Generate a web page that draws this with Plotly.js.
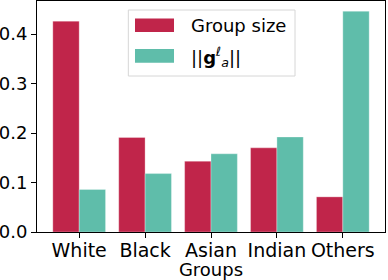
<!DOCTYPE html>
<html>
<head>
<meta charset="utf-8">
<script src="https://cdn.plot.ly/plotly-3.0.1.min.js"></script>
<style>html,body{margin:0;padding:0;background:#fff;}#chart{width:388px;height:280px;}</style>
</head>
<body>
<div id="chart"></div>
<script>
const categories = ["White", "Black", "Asian", "Indian", "Others"];
const groupSize = [0.426, 0.191, 0.143, 0.170, 0.071];
const gradNorm = [0.086, 0.118, 0.158, 0.192, 0.446];
const seriesNames = ["Group size", "||<b>g</b><sup><i>ℓ</i></sup><sub><i>a</i></sub>||"];
const yTicks = [0, 0.1, 0.2, 0.3, 0.4];
const xTitle = "Groups";

const red = "#c0254a";
const teal = "#5fbdaa";
const font = {family: "DejaVu Sans, sans-serif", size: 18, color: "#000"};
const xfont = {family: "DejaVu Sans, sans-serif", size: 19, color: "#000"};

const traces = [
  {type: "bar", x: categories, y: groupSize, name: seriesNames[0],
   marker: {color: red, line: {color: "rgba(255,255,255,0.5)", width: 0.6}}},
  {type: "bar", x: categories, y: gradNorm, name: seriesNames[1],
   marker: {color: teal, line: {color: "rgba(255,255,255,0.5)", width: 0.6}}}
];

// custom matplotlib-like legend (paper coordinates)
const shapes = [
  {type: "rect", xref: "paper", yref: "paper", x0: 0.2624, x1: 0.7414, y0: 0.6753, y1: 0.961,
   fillcolor: "rgba(255,255,255,0.8)", line: {color: "#d6d6d6", width: 1}},
  {type: "rect", xref: "paper", yref: "paper", x0: 0.2816, x1: 0.3937, y0: 0.866, y1: 0.924,
   fillcolor: red, line: {width: 0}},
  {type: "rect", xref: "paper", yref: "paper", x0: 0.2816, x1: 0.3937, y0: 0.733, y1: 0.792,
   fillcolor: teal, line: {width: 0}}
];
const annotations = [
  {xref: "paper", yref: "paper", x: 0.4368, y: 0.893, xanchor: "left", yanchor: "middle",
   text: seriesNames[0], showarrow: false, font: font},
  {xref: "paper", yref: "paper", x: 0.4368, y: 0.758, xanchor: "left", yanchor: "middle",
   text: seriesNames[1], showarrow: false, font: font}
];

const layout = {
  width: 388, height: 280,
  margin: {l: 37, r: 3, t: 1, b: 48},
  paper_bgcolor: "#fff", plot_bgcolor: "#fff",
  font: font,
  barmode: "group", bargap: 0.2, bargroupgap: 0,
  showlegend: false,
  xaxis: {
    range: [-0.64, 4.64], showline: true, mirror: true, linecolor: "#000", linewidth: 1,
    ticks: "outside", ticklen: 5, tickcolor: "#000", showgrid: false, zeroline: false,
    tickfont: xfont, ticklabelstandoff: -4, automargin: false,
    title: {text: xTitle, font: font, standoff: 0}
  },
  yaxis: {
    range: [0, 0.4667], showline: true, mirror: true, linecolor: "#000", linewidth: 1,
    ticks: "outside", ticklen: 5, tickcolor: "#000", showgrid: false, zeroline: false,
    tickvals: yTicks, ticktext: yTicks.map(v => v.toFixed(1)), tickfont: font, automargin: false
  },
  shapes: shapes,
  annotations: annotations
};

Plotly.newPlot("chart", traces, layout, {displayModeBar: false, staticPlot: true});
</script>
</body>
</html>
